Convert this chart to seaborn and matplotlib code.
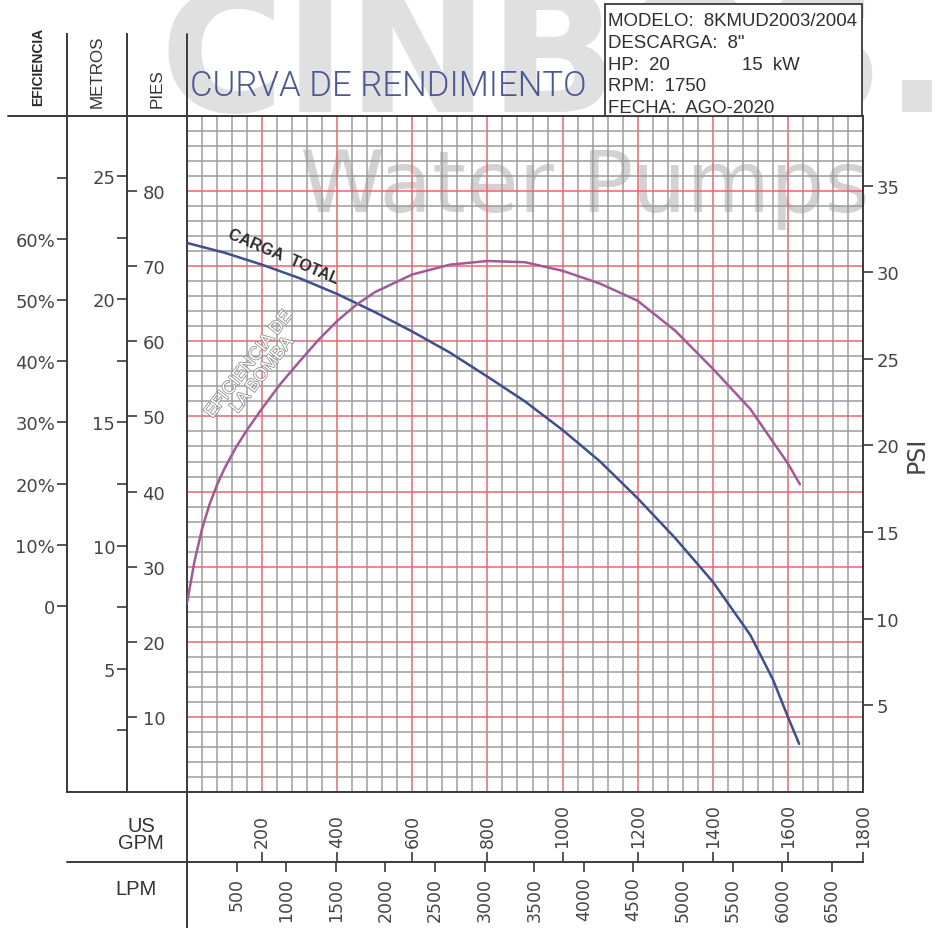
import os
import numpy as np
import pandas as pd
import matplotlib
matplotlib.use("Agg")
import matplotlib.pyplot as plt
import seaborn as sns
from matplotlib import font_manager as fm
from matplotlib.lines import Line2D
from matplotlib.patches import Rectangle
import matplotlib.patheffects as pe

# ---------------- data ----------------
head_gpm = [0, 100, 200, 300, 400, 500, 600, 700, 800, 900, 1000, 1100, 1200,
            1300, 1400, 1500, 1560, 1600, 1630]
head_ft = [73.1, 71.8, 70.2, 68.4, 66.3, 63.9, 61.3, 58.5, 55.3, 52.0, 48.2,
           44.0, 39.1, 33.8, 28.0, 20.9, 15.0, 10.0, 6.4]

eff_gpm = [0, 20, 40, 60, 80, 100, 130, 160, 200, 250, 300, 350, 400, 450,
           500, 600, 700, 800, 900, 1000, 1100, 1200, 1300, 1400, 1500, 1600,
           1632]
eff_pct = [0.5, 7.3, 12.6, 16.6, 19.8, 22.5, 25.9, 28.8, 32.3, 36.4, 40.0,
           43.5, 46.6, 49.2, 51.3, 54.2, 55.8, 56.4, 56.2, 54.8, 52.7, 49.9,
           45.0, 38.8, 32.2, 23.3, 19.9]

eff_ticks = [0, 10, 20, 30, 40, 50, 60, 70]
eff_ticklabels = ["0", "10%", "20%", "30%", "40%", "50%", "60%", ""]
metros_major = [5, 10, 15, 20, 25]
metros_minor = [2.5, 7.5, 12.5, 17.5, 22.5]
pies_ticks = [10, 20, 30, 40, 50, 60, 70, 80]
psi_ticks = [5, 10, 15, 20, 25, 30, 35]
gpm_ticks = [200, 400, 600, 800, 1000, 1200, 1400, 1600, 1800]
lpm_ticks = [500, 1000, 1500, 2000, 2500, 3000, 3500, 4000, 4500, 5000, 5500,
             6000, 6500]

title_text = "CURVA DE RENDIMIENTO"
info_lines = ["MODELO:  8KMUD2003/2004", 'DESCARGA:  8"', "HP:  20",
              "RPM:  1750", "FECHA:  AGO-2020"]
info_kw = "15  kW"

# ---------------- layout constants (pixels) ----------------
W, H = 937, 929
X0, X1 = 187, 863          # plot left / right
Y0, Y1 = 117, 793          # plot top / bottom
TOP_Y = 35
GPM_MAX, FT_MAX = 1800, 90
FT_PER_PSI = 2.3067
FT_PER_M = 3.28084
LPM_PER_GPM = 3.78541
EFF_ZERO_Y = 607
EFF_PX = 6.117
PX_PER_FT = (Y1 - Y0) / FT_MAX

INK = "#3a3a3a"
LBL = "#454545"


def frect(x0, y0, x1, y1):
    return [x0 / W, 1 - y1 / H, (x1 - x0) / W, (y1 - y0) / H]


def fx(x):
    return x / W


def fy(y):
    return 1 - y / H


def pick_font(prefs):
    files = {}
    for f in fm.fontManager.ttflist:
        files[os.path.splitext(os.path.basename(f.fname))[0].lower()] = f.fname
    for p in prefs:
        if p in files:
            return files[p]
    return None


def mkfp(path, size, family="DejaVu Sans"):
    if path:
        return fm.FontProperties(fname=path, size=size)
    return fm.FontProperties(family=family, size=size)


title_font = pick_font(["notosans-extracondensedlight", "notosans-condensedlight",
                        "liberationsansnarrow-regular", "roboto-light",
                        "lato-light", "opensans-light", "notosans-light",
                        "liberationsans-regular"])
narrow_font = pick_font(["liberationsansnarrow-regular", "liberationsansnarrow",
                         "notosans-condensed", "liberationsans-regular"])
narrow_bold = pick_font(["liberationsansnarrow-bold", "notosans-condensedbold",
                         "liberationsans-bold"])
arial_font = pick_font(["liberationsans-regular"])

sns.set_theme(style="white")
plt.rcParams["font.family"] = ["DejaVu Sans"]

fig = plt.figure(figsize=(W / 100, H / 100), dpi=100)
fig.patch.set_facecolor("white")
renderer = fig.canvas.get_renderer()


def fit(txt, target, along="w"):
    bb = txt.get_window_extent(renderer)
    cur = bb.width if along == "w" else bb.height
    txt.set_fontsize(txt.get_fontsize() * target / cur)


# ---------------- watermark ----------------
wm1 = fig.text(fx(160), fy(112), "CINBOS.", ha="left", va="baseline",
               fontsize=120, fontweight="bold", color="#e0e0e0", zorder=-5)
fit(wm1, 790)
wm2 = fig.text(fx(585), fy(212), "Water Pumps", ha="center", va="baseline",
               fontsize=60, color="#d2d2d2", zorder=-4)
fit(wm2, 570)

# ---------------- main chart ----------------
ax = fig.add_axes(frect(X0, Y0, X1, Y1))
ax.set_facecolor("none")
ax.set_xlim(0, GPM_MAX)
ax.set_ylim(0, FT_MAX)
ax.set_xticks(np.arange(0, GPM_MAX + 1, 200))
ax.set_xticks(np.arange(0, GPM_MAX + 1, 40), minor=True)
ax.set_yticks(np.arange(0, FT_MAX + 1, 10))
ax.set_yticks(np.arange(0, FT_MAX + 1, 2), minor=True)
ax.grid(which="minor", color="#9c9c9c", lw=1.1)
ax.grid(which="major", color="#ea6570", lw=1.1)
ax.set_axisbelow(True)
ax.tick_params(which="both", length=0, labelleft=False, labelbottom=False)
for s in ax.spines.values():
    s.set_color(INK)
    s.set_linewidth(1.4)

df_head = pd.DataFrame({"gpm": head_gpm, "ft": head_ft})
sns.lineplot(data=df_head, x="gpm", y="ft", ax=ax, color="#3f4e8e", lw=1.8,
             zorder=6)
ax.set_xlabel("")
ax.set_ylabel("")

axe = ax.twinx()
axe.set_ylim(-(Y1 - EFF_ZERO_Y) / EFF_PX, (EFF_ZERO_Y - Y0) / EFF_PX)
df_eff = pd.DataFrame({"gpm": eff_gpm, "eff": eff_pct})
sns.lineplot(data=df_eff, x="gpm", y="eff", ax=axe, color="#a15a95", lw=1.8)
axe.axis("off")

axp = ax.twinx()
axp.set_ylim(0, FT_MAX / FT_PER_PSI)
axp.set_yticks(psi_ticks)
axp.tick_params(axis="y", direction="out", length=7.5, width=1.2, color=INK,
                labelsize=13, labelcolor=LBL, pad=2, right=True)
for s in axp.spines.values():
    s.set_visible(False)
axp.set_ylabel("PSI", fontsize=17, color=LBL, labelpad=4, rotation=90)

# curve labels
ax.text(256, 71.3, "CARGA  TOTAL", rotation=-23, ha="center", va="center",
        fontproperties=mkfp(narrow_bold, 11.5), color="#2e2e2e", zorder=7)
ax.text(182, 56.2, "EFICIENCIA DE\nLA BOMBA", rotation=52, ha="center",
        va="center", multialignment="center", linespacing=1.0,
        fontproperties=mkfp(narrow_font, 13), color="white", zorder=7,
        path_effects=[pe.withStroke(linewidth=1.1, foreground="#8a8a8a")])

# ---------------- left scales ----------------
axE = fig.add_axes(frect(67, TOP_Y, 68, Y1))
axE.set_facecolor("none")
axE.set_ylim(-(Y1 - EFF_ZERO_Y) / EFF_PX, (EFF_ZERO_Y - TOP_Y) / EFF_PX)
axE.set_xticks([])
axE.set_yticks(eff_ticks)
axE.set_yticklabels(eff_ticklabels)
for k in ["top", "right", "bottom"]:
    axE.spines[k].set_visible(False)
axE.spines["left"].set_color(INK)
axE.spines["left"].set_linewidth(1.4)
axE.tick_params(axis="y", direction="out", length=7.5, width=1.2, color=INK,
                labelsize=13, labelcolor=LBL, pad=1, left=True)

axM = fig.add_axes(frect(127, TOP_Y, 187, Y1))
axM.set_facecolor("none")
axM.set_ylim(0, (Y1 - TOP_Y) / (PX_PER_FT * FT_PER_M))
axM.set_xticks([])
axM.set_yticks(metros_major)
axM.set_yticks(metros_minor, minor=True)
for k in ["top", "right", "bottom"]:
    axM.spines[k].set_visible(False)
axM.spines["left"].set_color(INK)
axM.spines["left"].set_linewidth(1.4)
axM.tick_params(axis="y", which="both", direction="out", length=7.5, width=1.2,
                color=INK, labelsize=13, labelcolor=LBL, pad=1, left=True)

axF = fig.add_axes(frect(127, TOP_Y, 187, Y1))
axF.set_facecolor("none")
axF.set_ylim(0, (Y1 - TOP_Y) / PX_PER_FT)
axF.set_xticks([])
axF.set_yticks(pies_ticks)
for s in axF.spines.values():
    s.set_visible(False)
axF.tick_params(axis="y", direction="in", length=7.5, width=1.2, color=INK,
                labelsize=13, labelcolor=LBL, pad=-27.5, left=True)

# ---------------- bottom scales ----------------
axL = fig.add_axes(frect(X0, Y1, X1, 863))
axL.set_facecolor("none")
axL.set_xlim(0, GPM_MAX * LPM_PER_GPM)
axL.set_yticks([])
axL.set_xticks(lpm_ticks)
for k in ["top", "right", "left"]:
    axL.spines[k].set_visible(False)
axL.spines["bottom"].set_color(INK)
axL.spines["bottom"].set_linewidth(1.4)
axL.tick_params(axis="x", direction="out", length=7.5, width=1.2, color=INK,
                labelsize=12.5, labelcolor=LBL, labelrotation=90, pad=3,
                bottom=True)

axG = fig.add_axes(frect(X0, 863, X1, H))
axG.set_facecolor("none")
axG.set_xlim(0, GPM_MAX)
axG.set_yticks([])
axG.xaxis.tick_top()
axG.set_xticks(gpm_ticks)
for s in axG.spines.values():
    s.set_visible(False)
axG.tick_params(axis="x", direction="out", length=7.5, width=1.2, color=INK,
                labelsize=12.5, labelcolor=LBL, labelrotation=90, pad=3,
                top=True, bottom=False, labeltop=True, labelbottom=False)

# ---------------- frame lines ----------------
for (xa, ya, xb, yb) in [(8, Y0, X0, Y0), (X0, TOP_Y, X0, Y0), (X0, Y1, X0, H),
                         (67, Y1, X0, Y1), (67, 863, X0, 863)]:
    fig.add_artist(Line2D([fx(xa), fx(xb)], [fy(ya), fy(yb)], color=INK,
                          lw=1.4, transform=fig.transFigure))

# ---------------- header texts ----------------
t = fig.text(fx(190), fy(96), title_text, ha="left", va="baseline",
             color="#4a5894", fontproperties=mkfp(title_font, 30))
fit(t, 396)

fig.add_artist(Rectangle((fx(605), fy(Y0)), (862 - 605) / W, (Y0 - 5) / H,
                         transform=fig.transFigure, facecolor="white",
                         ec=INK, lw=1.3, zorder=2))
first = fig.text(fx(608), fy(26), info_lines[0], ha="left", va="baseline",
                 color="#2f2f2f", fontproperties=mkfp(arial_font, 13.5),
                 zorder=3)
fit(first, 250)
isz = first.get_fontsize()
for i, line in enumerate(info_lines[1:], start=1):
    fig.text(fx(608), fy(26 + 21.8 * i), line, ha="left", va="baseline",
             color="#2f2f2f", fontproperties=mkfp(arial_font, isz), zorder=3)
fig.text(fx(742), fy(26 + 21.8 * 2), info_kw, ha="left", va="baseline",
         color="#2f2f2f", fontproperties=mkfp(arial_font, isz), zorder=3)

fig.text(fx(38), fy(106), "EFICIENCIA", rotation=90, ha="center",
         va="bottom", color="#2a2a2a", fontproperties=mkfp(narrow_bold, 10))
m = fig.text(fx(97), fy(108), "METROS", rotation=90, ha="center", va="bottom",
             color="#333333", fontproperties=mkfp(narrow_font, 16))
fit(m, 73, "h")
p = fig.text(fx(157), fy(108), "PIES", rotation=90, ha="center", va="bottom",
             color="#333333", fontproperties=mkfp(narrow_font, 16))
p.set_fontsize(m.get_fontsize())

fig.text(fx(141), fy(835), "US\nGPM", ha="center", va="center",
         linespacing=0.85, color="#333333",
         fontproperties=mkfp(narrow_font, 14.5))
fig.text(fx(136), fy(890), "LPM", ha="center", va="center", color="#333333",
         fontproperties=mkfp(narrow_font, 14.5))

fig.savefig("out.png", dpi=100, facecolor="white")
